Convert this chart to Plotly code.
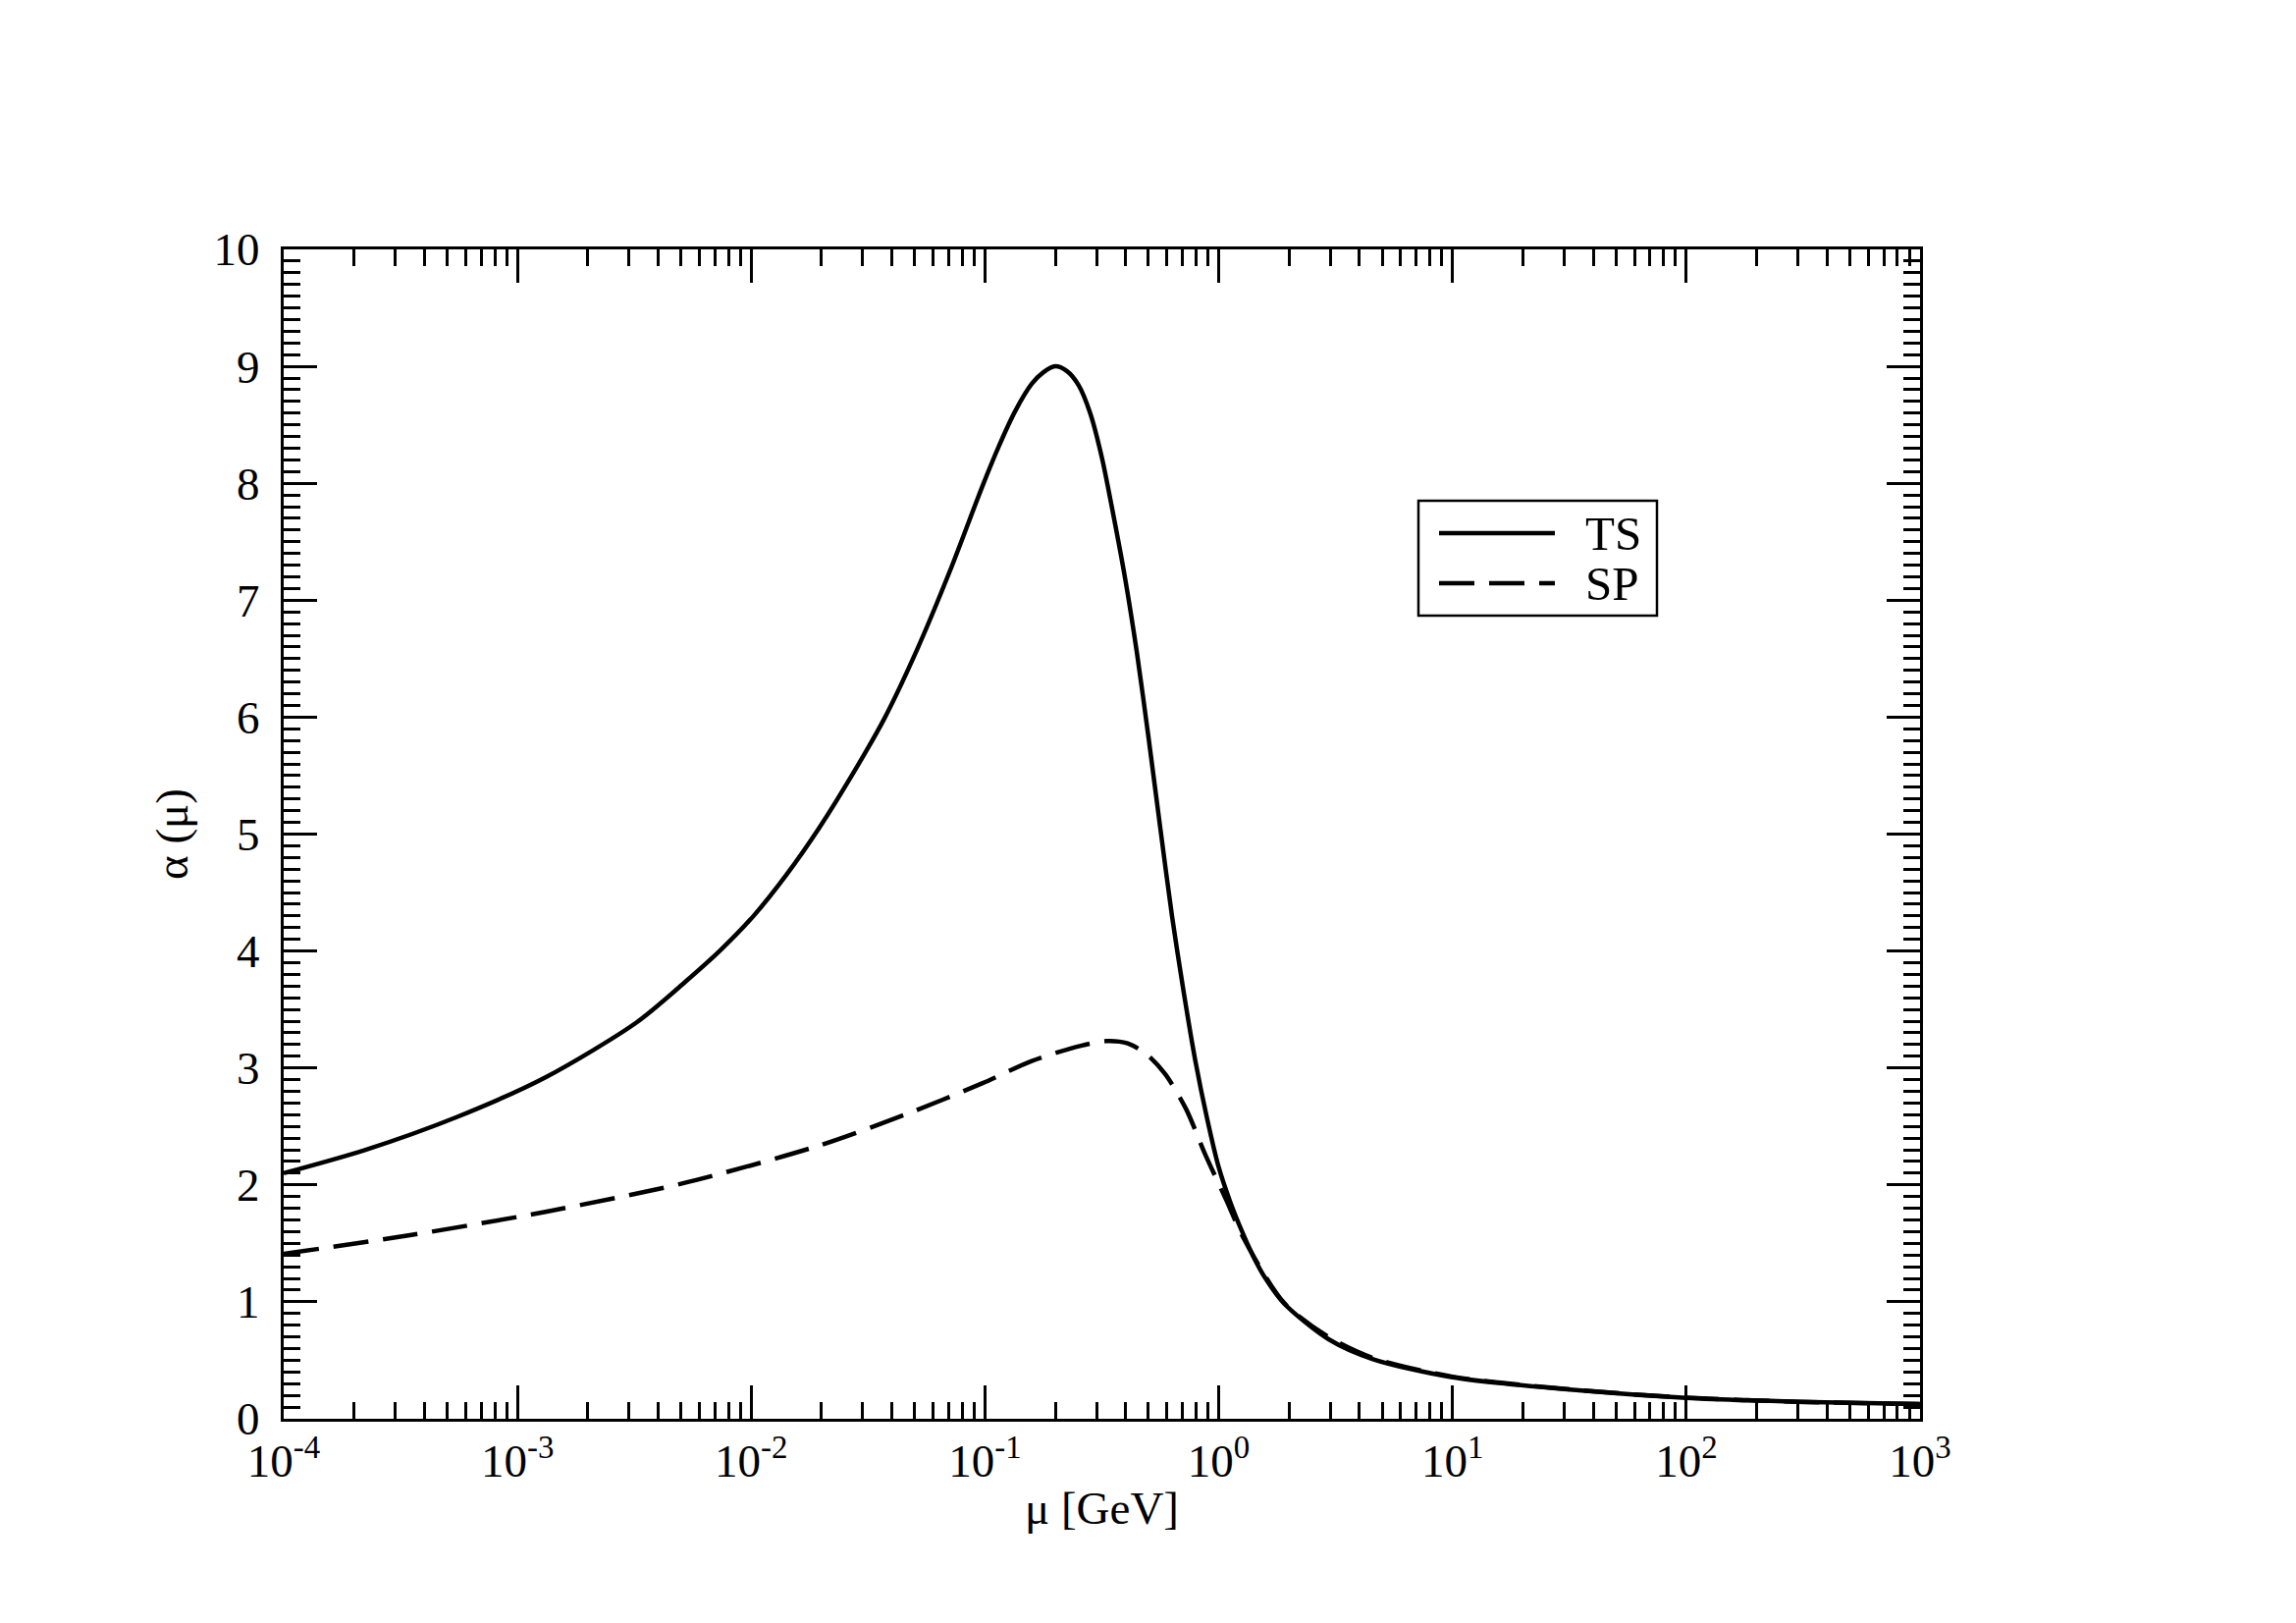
import plotly.graph_objects as go

# ---- data, mu given as log10(mu / GeV) ----
log10_mu_ts = [-4.00, -3.65, -3.26, -2.88, -2.49, -2.28, -2.13, -1.99, -1.85, -1.71,
               -1.57, -1.43, -1.29, -1.15, -1.01, -0.94, -0.87, -0.80, -0.75, -0.70,
               -0.65, -0.60, -0.55, -0.50, -0.45, -0.40, -0.35, -0.30, -0.25, -0.20,
               -0.15, -0.10, -0.05, 0.00, 0.05, 0.10, 0.15, 0.20, 0.28, 0.47,
               0.66, 1.00, 1.54, 2.00, 2.48, 3.00]
alpha_ts = [2.10, 2.30, 2.58, 2.92, 3.39, 3.74, 4.01, 4.30, 4.65, 5.05,
            5.50, 5.99, 6.58, 7.25, 7.98, 8.32, 8.62, 8.85, 8.95, 9.00,
            8.96, 8.84, 8.60, 8.22, 7.72, 7.18, 6.55, 5.82, 5.05, 4.30,
            3.65, 3.06, 2.57, 2.15, 1.85, 1.60, 1.38, 1.20, 0.985, 0.68,
            0.51, 0.355, 0.243, 0.179, 0.145, 0.125]

log10_mu_sp = [-4.00, -3.46, -2.88, -2.30, -1.72, -1.33, -1.01, -0.80, -0.59, -0.48,
               -0.39, -0.31, -0.23, -0.14, -0.06, 0.03, 0.11, 0.28, 0.47, 0.66,
               1.00, 1.54, 2.00, 2.48, 3.00]
alpha_sp = [1.41, 1.57, 1.77, 2.01, 2.33, 2.61, 2.87, 3.06, 3.19, 3.23,
            3.21, 3.12, 2.95, 2.65, 2.27, 1.88, 1.53, 0.99, 0.70, 0.52,
            0.36, 0.245, 0.18, 0.145, 0.125]

x_tickvals = [1e-4, 1e-3, 1e-2, 1e-1, 1e0, 1e1, 1e2, 1e3]
x_ticktext = ["10<sup>-4</sup>", "10<sup>-3</sup>", "10<sup>-2</sup>", "10<sup>-1</sup>",
              "10<sup>0</sup>", "10<sup>1</sup>", "10<sup>2</sup>", "10<sup>3</sup>"]
y_tickvals = list(range(0, 11))
series_names = ["TS", "SP"]

mu_ts = [10 ** v for v in log10_mu_ts]
mu_sp = [10 ** v for v in log10_mu_sp]

FONT = "Liberation Serif, Times New Roman, serif"

fig = go.Figure()
fig.add_trace(go.Scatter(x=mu_ts, y=alpha_ts, mode="lines", name=series_names[0],
                         line=dict(color="black", width=4.5, shape="spline", smoothing=0.8),
                         showlegend=False))
fig.add_trace(go.Scatter(x=mu_sp, y=alpha_sp, mode="lines", name=series_names[1],
                         line=dict(color="black", width=4.5, dash="36px,15px",
                                   shape="spline", smoothing=0.8),
                         showlegend=False))

fig.update_layout(
    width=2339, height=1653,
    margin=dict(l=281, r=391, t=246, b=216),
    paper_bgcolor="white", plot_bgcolor="white",
    font=dict(family=FONT, size=46, color="black"),
)

fig.update_xaxes(
    type="log", range=[-4, 3], automargin=False,
    tickvals=x_tickvals, ticktext=x_ticktext,
    ticks="inside", ticklen=34, tickwidth=2.5, tickcolor="black",
    minor=dict(dtick="D1", ticks="inside", ticklen=17, tickwidth=2.5, tickcolor="black", showgrid=False),
    showline=True, linewidth=3, linecolor="black", mirror="ticks",
    showgrid=False, zeroline=False,
    tickfont=dict(size=47),
    title=dict(text="μ [GeV]", font=dict(size=47), standoff=6),
)
fig.update_yaxes(
    range=[0, 10], tickvals=y_tickvals, automargin=False,
    ticks="inside", ticklen=34, tickwidth=2.5, tickcolor="black",
    minor=dict(dtick=0.1, ticks="inside", ticklen=17, tickwidth=2.5, tickcolor="black", showgrid=False),
    showline=True, linewidth=3, linecolor="black", mirror="ticks",
    showgrid=False, zeroline=False,
    ticklabelstandoff=12,
    tickfont=dict(size=47),
    title=dict(text="α (μ)", font=dict(size=47), standoff=12),
)

# legend box drawn in paper coordinates (x: 0..1 over plot area)
pw, ph = 2339 - 281 - 391, 1653 - 246 - 216
def px(xp):
    return (xp - 288) / pw
def py(yp):
    return (1444 - yp) / ph

fig.add_shape(type="rect", xref="paper", yref="paper",
              x0=px(1444), x1=px(1687), y0=py(626), y1=py(509),
              line=dict(color="black", width=2.5), fillcolor="white")
fig.add_shape(type="line", xref="paper", yref="paper",
              x0=px(1465), x1=px(1583), y0=py(542), y1=py(542),
              line=dict(color="black", width=4.5))
fig.add_shape(type="line", xref="paper", yref="paper",
              x0=px(1465), x1=px(1583), y0=py(593), y1=py(593),
              line=dict(color="black", width=4.5, dash="36px,15px"))
for name, yy in zip(series_names, [542, 593]):
    fig.add_annotation(xref="paper", yref="paper", x=px(1612), y=py(yy),
                       text=name, showarrow=False, xanchor="left", yanchor="middle",
                       font=dict(family=FONT, size=49, color="black"))

fig.write_html("out.html")
